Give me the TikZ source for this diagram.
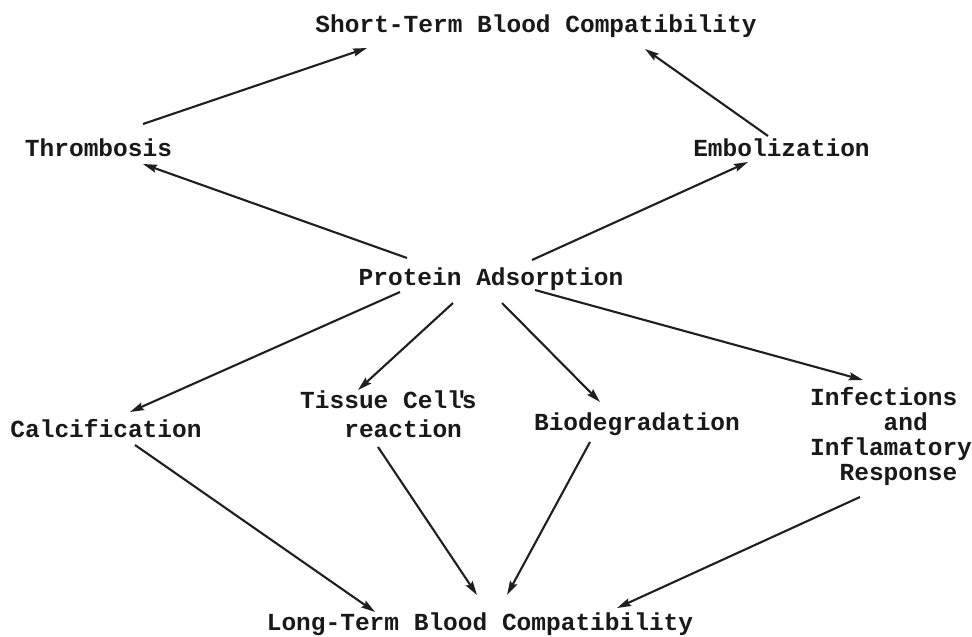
\documentclass[tikz,border=0pt]{standalone}
\usepackage{fontspec}
\setmonofont{Liberation Mono}
\usetikzlibrary{arrows.meta}
\tikzset{
  lbl/.style={inner sep=0pt, font=\ttfamily\bfseries\fontsize{24.5}{29}\selectfont, text=black!90},
  arr/.style={line width=2.1pt, draw=black!88, -{Stealth[length=14pt,width=8pt,inset=2pt]}},
}
\begin{document}
\begin{tikzpicture}[x=1pt,y=-1pt]
\useasboundingbox (0,0) rectangle (972,637);
\fill[white] (0,0) rectangle (972,637);
% nodes
\node[lbl, anchor=base] (short) at (536,32) {Short-Term Blood Compatibility};
\node[lbl, anchor=base] (thromb) at (98.5,156) {Thrombosis};
\node[lbl, anchor=base] (embol) at (781.5,156) {Embolization};
\node[lbl, anchor=base] (prot) at (491,285) {Protein Adsorption};
\node[lbl, anchor=base] (calc) at (106,437) {Calcification};
\node[lbl, anchor=base west] (tissue) at (300,408)
  {\fontsize{24.5}{29}\selectfont\begin{tabular}[t]{@{}l@{}}Tissue Cell\makebox[0pt][c]{'}s\\\hphantom{xxx}reaction\end{tabular}};
\node[lbl, anchor=base] (bio) at (637,430) {Biodegradation};
\node[lbl, anchor=base west] (infec) at (810,405)
  {\fontsize{24.5}{25}\selectfont\begin{tabular}[t]{@{}l@{}}Infections\\\hphantom{xxxxx}and\\Inflamatory\\\hphantom{xx}Response\end{tabular}};
\node[lbl, anchor=base] (long) at (480,630) {Long-Term Blood Compatibility};
% connectors
\draw[arr] ([shift={(44.5,-32)}]thromb.base) -- ([shift={(-169,16)}]short.base);
\draw[arr] ([shift={(-13.5,-20)}]embol.base) -- ([shift={(109,17)}]short.base);
\draw[arr] ([shift={(-84,-27)}]prot.base) -- ([shift={(44.5,8)}]thromb.base);
\draw[arr] ([shift={(41,-25)}]prot.base) -- ([shift={(-33.5,6)}]embol.base);
\draw[arr] ([shift={(-91,7)}]prot.base) -- ([shift={(24,-25)}]calc.base);
\draw[arr] ([shift={(-38,18)}]prot.base) -- ([shift={(58,-18)}]tissue.base west);
\draw[arr] ([shift={(11,18)}]prot.base) -- ([shift={(-37,-28)}]bio.base);
\draw[arr] ([shift={(44,5)}]prot.base) -- ([shift={(53,-25)}]infec.base west);
\draw[arr] ([shift={(29,8)}]calc.base) -- ([shift={(-105,-18)}]long.base);
\draw[arr] ([shift={(78,39)}]tissue.base west) -- ([shift={(-3,-35)}]long.base);
\draw[arr] ([shift={(-47,12)}]bio.base) -- ([shift={(27,-35)}]long.base);
\draw[arr] ([shift={(50,92)}]infec.base west) -- ([shift={(137,-22)}]long.base);
\end{tikzpicture}
\end{document}
